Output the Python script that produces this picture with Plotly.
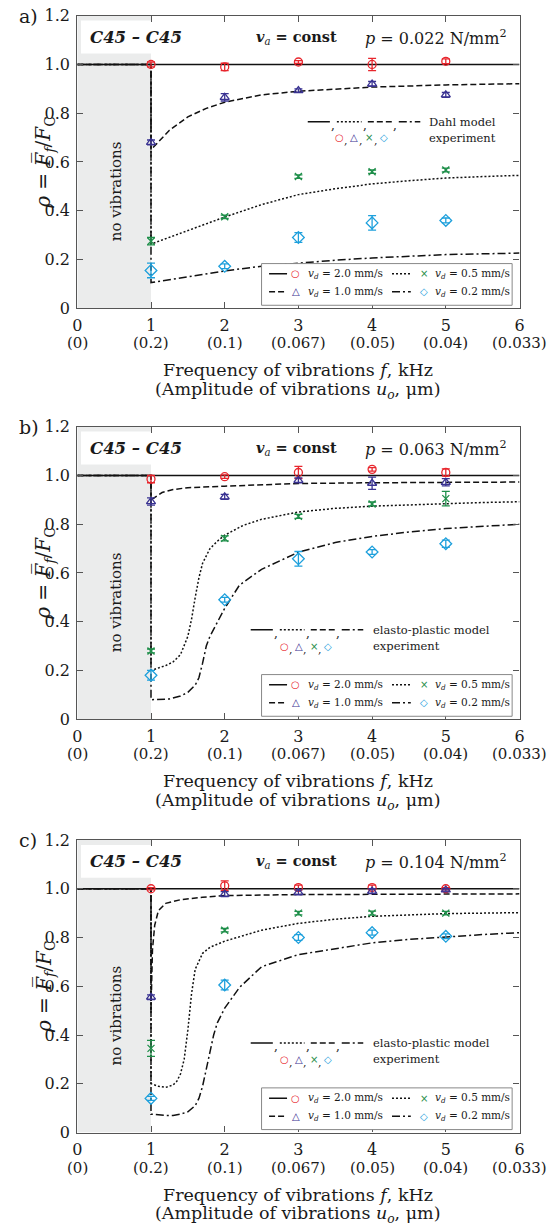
import plotly.graph_objects as go

# ---------------- data ----------------
FREQ = [1, 2, 3, 4, 5]
X_TICKS = [0, 1, 2, 3, 4, 5, 6]
X_TICK_TEXT = ["0", "1", "2", "3", "4", "5", "6"]
AMP_TEXT = ["(0)", "(0.2)", "(0.1)", "(0.067)", "(0.05)", "(0.04)", "(0.033)"]
Y_TICKS = [0, 0.2, 0.4, 0.6, 0.8, 1.0, 1.2]
Y_TICK_TEXT = ["0", "0.2", "0.4", "0.6", "0.8", "1.0", "1.2"]

PANEL_LETTERS = ["a)", "b)", "c)"]
PRESSURES = ["0.022", "0.063", "0.104"]
MODEL_NAMES = ["Dahl model", "elasto-plastic model", "elasto-plastic model"]
VD_LABELS = ["2.0", "1.0", "0.5", "0.2"]

# ---- panel a (Dahl model) ----
A_M20_X = [0, 6]
A_M20_Y = [1.0, 1.0]
A_M10_X = [0, 1, 1, 1.25, 1.5, 1.75, 2, 2.5, 3, 3.5, 4, 5, 6]
A_M10_Y = [1.0, 1.0, 0.65, 0.73, 0.785, 0.82, 0.845, 0.875, 0.89, 0.90, 0.907, 0.916, 0.921]
A_M05_X = [0, 1, 1, 1.5, 2, 2.5, 3, 3.5, 4, 4.5, 5, 5.5, 6]
A_M05_Y = [1.0, 1.0, 0.263, 0.32, 0.374, 0.425, 0.466, 0.49, 0.51, 0.523, 0.534, 0.54, 0.545]
A_M02_X = [0, 1, 1, 1.5, 2, 2.5, 3, 3.5, 4, 5, 6]
A_M02_Y = [1.0, 1.0, 0.105, 0.13, 0.153, 0.172, 0.186, 0.197, 0.206, 0.22, 0.226]

A_E20 = [1.0, 0.99, 1.01, 1.0, 1.013]
A_E20_ERR = [0.01, 0.015, 0.006, 0.025, 0.01]
A_E10 = [0.68, 0.865, 0.893, 0.92, 0.875]
A_E10_ERR = [0.01, 0.015, 0.007, 0.01, 0.01]
A_E05 = [0.275, 0.375, 0.54, 0.56, 0.567]
A_E05_ERR = [0.015, 0.007, 0.007, 0.007, 0.008]
A_E02 = [0.155, 0.172, 0.29, 0.35, 0.36]
A_E02_ERR = [0.03, 0.01, 0.02, 0.03, 0.01]

# ---- panel b (elasto-plastic) ----
B_M20_X = [0, 6]
B_M20_Y = [1.0, 1.0]
B_M10_X = [0, 1, 1, 1.15, 1.3, 1.5, 2, 2.5, 3, 4, 5, 6]
B_M10_Y = [1.0, 1.0, 0.9, 0.93, 0.942, 0.95, 0.956, 0.962, 0.967, 0.97, 0.972, 0.973]
B_M05_X = [0, 1, 1, 1.1, 1.2, 1.3, 1.4, 1.5, 1.55, 1.6, 1.65, 1.7, 1.8, 1.9, 2,
           2.25, 2.5, 3, 3.5, 4, 4.5, 5, 5.5, 6]
B_M05_Y = [1.0, 1.0, 0.20, 0.21, 0.22, 0.235, 0.265, 0.34, 0.41, 0.50, 0.58, 0.64, 0.70, 0.73, 0.755,
           0.795, 0.82, 0.85, 0.865, 0.874, 0.88, 0.885, 0.889, 0.892]
B_M02_X = [0, 1, 1, 1.25, 1.4, 1.5, 1.6, 1.65, 1.7, 1.75, 1.8, 1.9, 2, 2.2, 2.5,
           3, 3.5, 4, 4.5, 5, 5.5, 6]
B_M02_Y = [1.0, 1.0, 0.08, 0.083, 0.095, 0.11, 0.14, 0.17, 0.23, 0.30, 0.34, 0.395, 0.455, 0.55, 0.615,
           0.685, 0.725, 0.75, 0.768, 0.782, 0.792, 0.80]

B_E20 = [0.985, 0.995, 1.012, 1.025, 1.012]
B_E20_ERR = [0.015, 0.007, 0.025, 0.007, 0.015]
B_E10 = [0.893, 0.912, 0.98, 0.968, 0.972]
B_E10_ERR = [0.015, 0.01, 0.01, 0.025, 0.015]
B_E05 = [0.28, 0.742, 0.832, 0.883, 0.905]
B_E05_ERR = [0.008, 0.01, 0.008, 0.008, 0.03]
B_E02 = [0.18, 0.49, 0.658, 0.686, 0.72]
B_E02_ERR = [0.02, 0.01, 0.03, 0.01, 0.015]

# ---- panel c (elasto-plastic) ----
C_M20_X = [0, 6]
C_M20_Y = [1.0, 1.0]
C_M10_X = [0, 1, 1, 1.02, 1.05, 1.1, 1.2, 1.4, 1.7, 2, 3, 4, 6]
C_M10_Y = [1.0, 1.0, 0.5, 0.75, 0.85, 0.91, 0.94, 0.955, 0.965, 0.972, 0.976, 0.978, 0.979]
C_M05_X = [0, 1, 1, 1.1, 1.2, 1.3, 1.35, 1.4, 1.45, 1.5, 1.55, 1.6, 1.7, 1.8, 2,
           2.5, 3, 3.5, 4, 4.5, 5, 5.5, 6]
C_M05_Y = [1.0, 1.0, 0.20, 0.19, 0.185, 0.195, 0.21, 0.24, 0.30, 0.42, 0.57, 0.67, 0.735, 0.76, 0.785,
           0.83, 0.858, 0.875, 0.887, 0.894, 0.898, 0.90, 0.902]
C_M02_X = [0, 1, 1, 1.1, 1.2, 1.3, 1.4, 1.5, 1.6, 1.65, 1.7, 1.75, 1.8, 1.85, 1.9, 2,
           2.2, 2.5, 3, 3.5, 4, 4.5, 5, 5.5, 6]
C_M02_Y = [1.0, 1.0, 0.075, 0.072, 0.07, 0.07, 0.075, 0.085, 0.11, 0.14, 0.19, 0.26, 0.33, 0.40, 0.45, 0.51,
           0.595, 0.68, 0.73, 0.755, 0.778, 0.792, 0.803, 0.812, 0.82]

C_E20 = [1.0, 1.012, 1.005, 1.005, 1.0]
C_E20_ERR = [0.005, 0.02, 0.01, 0.01, 0.005]
C_E10 = [0.555, 0.978, 0.985, 0.99, 0.995]
C_E10_ERR = [0.01, 0.01, 0.01, 0.01, 0.005]
C_E05 = [0.345, 0.83, 0.9, 0.9, 0.9]
C_E05_ERR = [0.033, 0.007, 0.007, 0.008, 0.007]
C_E02 = [0.14, 0.605, 0.8, 0.82, 0.805]
C_E02_ERR = [0.008, 0.02, 0.012, 0.01, 0.01]

# ---------------- styling ----------------
FONT = "DejaVu Serif, serif"
SYM_FONT = "DejaVu Sans, sans-serif"
COLORS = ["#e8262d", "#3a3392", "#1f8f4a", "#1ea0dc"]
SYMBOLS = ["circle-open", "triangle-up-open", "x-thin-open", "diamond-open"]
SIZES = [8, 8, 7, 9]
GLYPHS = ["○", "△", "×", "◇"]
DASHES = ["solid", "6px,3px", "2px,2px", "8px,3px,2px,3px"]
LINE_COLOR = "#111111"
TXT = "#1a1a1a"

MODELS = [
    [(A_M20_X, A_M20_Y), (A_M10_X, A_M10_Y), (A_M05_X, A_M05_Y), (A_M02_X, A_M02_Y)],
    [(B_M20_X, B_M20_Y), (B_M10_X, B_M10_Y), (B_M05_X, B_M05_Y), (B_M02_X, B_M02_Y)],
    [(C_M20_X, C_M20_Y), (C_M10_X, C_M10_Y), (C_M05_X, C_M05_Y), (C_M02_X, C_M02_Y)],
]
EXPS = [
    [(A_E20, A_E20_ERR), (A_E10, A_E10_ERR), (A_E05, A_E05_ERR), (A_E02, A_E02_ERR)],
    [(B_E20, B_E20_ERR), (B_E10, B_E10_ERR), (B_E05, B_E05_ERR), (B_E02, B_E02_ERR)],
    [(C_E20, C_E20_ERR), (C_E10, C_E10_ERR), (C_E05, C_E05_ERR), (C_E02, C_E02_ERR)],
]

W, H = 555, 1231
X_DOMAIN = [77.3 / W, 519.5 / W]
PANEL_PIX = [(15.7, 308.2), (426.7, 719.2), (840.0, 1132.5)]

fig = go.Figure()
shapes = []
annotations = []


def ann(**kw):
    kw.setdefault("showarrow", False)
    annotations.append(kw)


for p in range(3):
    xa = "x" if p == 0 else f"x{p+1}"
    ya = "y" if p == 0 else f"y{p+1}"
    xd = f"{xa} domain"
    yd = f"{ya} domain"
    top, bot = PANEL_PIX[p]

    axis_common = dict(showline=True, linecolor="#555555", linewidth=1.2, mirror="ticks",
                       ticks="inside", ticklen=6, tickwidth=1, tickcolor="#555555",
                       showgrid=False, zeroline=False, automargin=False,
                       tickfont=dict(family=FONT, size=16, color=TXT))
    fig.update_layout(**{
        ("xaxis" if p == 0 else f"xaxis{p+1}"): dict(
            axis_common, domain=X_DOMAIN, range=[0, 6], anchor=ya,
            tickvals=X_TICKS, ticktext=X_TICK_TEXT, ticklabelstandoff=2),
        ("yaxis" if p == 0 else f"yaxis{p+1}"): dict(
            axis_common, domain=[1 - bot / H, 1 - top / H], range=[0, 1.2], anchor=xa,
            tickvals=Y_TICKS, ticktext=Y_TICK_TEXT, ticklabelstandoff=3),
    })

    # gray "no vibrations" region and white header box
    shapes.append(dict(type="rect", xref=xa, yref=ya, x0=0, x1=1, y0=0, y1=1.2,
                       fillcolor="#ebecec", line=dict(width=0), layer="below"))
    shapes.append(dict(type="rect", xref=xa, yref=ya, x0=0.05, x1=1.0, y0=1.045, y1=1.18,
                       fillcolor="white", line=dict(width=0), layer="below"))

    # model curves
    for i, (mx, my) in enumerate(MODELS[p]):
        fig.add_trace(go.Scatter(x=mx, y=my, mode="lines", xaxis=xa, yaxis=ya,
                                 line=dict(color=LINE_COLOR, width=1.5, dash=DASHES[i]),
                                 showlegend=False, hoverinfo="skip"))
    # experiments
    for i, (ev, ee) in enumerate(EXPS[p]):
        fig.add_trace(go.Scatter(
            x=FREQ, y=ev, mode="markers", xaxis=xa, yaxis=ya,
            marker=dict(symbol=SYMBOLS[i], size=SIZES[i], color=COLORS[i],
                        line=dict(color=COLORS[i], width=1.3)),
            error_y=dict(type="data", array=ee, color=COLORS[i], thickness=1.3, width=4),
            showlegend=False, name=f"v_d = {VD_LABELS[i]} mm/s"))

    # header texts
    ann(xref=xa, yref=ya, x=0.14, y=1.11, xanchor="left", yanchor="middle",
        text="<b><i>C45 – C45</i></b>", font=dict(family=FONT, size=16.5, color=TXT))
    ann(xref=xa, yref=ya, x=2.97, y=1.11, xanchor="center", yanchor="middle",
        text="<b><i>v</i></b><sub><i>a</i></sub><b> = const</b>",
        font=dict(family=FONT, size=14.5, color=TXT))
    ann(xref=xa, yref=ya, x=3.87, y=1.11, xanchor="left", yanchor="middle",
        text=f"<i>p</i> = {PRESSURES[p]} N/mm<sup>2</sup>",
        font=dict(family=FONT, size=16, color=TXT))
    # no vibrations
    ann(xref=xa, yref=ya, x=0.525, y=0.48, xanchor="center", yanchor="middle", textangle=-90,
        text="no vibrations", font=dict(family=FONT, size=15, color=TXT))
    # panel letter
    ann(xref="paper", yref=yd, x=0.03, y=1.0, xanchor="left", yanchor="middle",
        text=PANEL_LETTERS[p], font=dict(family=FONT, size=19, color=TXT))
    # y title
    ann(xref=xd, yref=yd, x=0, y=0.5, xshift=-48, textangle=-90,
        text="<i>ρ</i> = <i>F̅</i><sub><i>f</i></sub>/<i>F</i><sub>C</sub>",
        font=dict(family=FONT, size=20, color=TXT))
    # amplitude tick row
    for xv, t in zip(X_TICKS, AMP_TEXT):
        ann(xref=xa, yref=yd, x=xv, y=0, yshift=-35, yanchor="middle", text=t,
            font=dict(family=FONT, size=15, color=TXT))
    # x titles
    ann(xref=xd, yref=yd, x=0.5, y=0, yshift=-62, yanchor="middle",
        text="Frequency of vibrations <i>f</i>, kHz", font=dict(family=FONT, size=17.5, color=TXT))
    ann(xref=xd, yref=yd, x=0.5, y=0, yshift=-82, yanchor="middle",
        text="(Amplitude of vibrations <i>u<sub>o</sub></i>, μm)",
        font=dict(family=FONT, size=17.5, color=TXT))

    # ---- descriptive legend (model / experiment) ----
    if p == 0:
        ls, ms, tx, r1, r2 = 3.127, 3.56, 4.74, 0.765, 0.70
    else:
        ls, ms, tx, r1, r2 = 2.353, 2.805, 3.99, 0.367, 0.30
    seg = [(0.0, 0.30), (0.395, 0.73), (0.815, 1.14), (1.235, 1.527)]
    seg_style = [0, 2, 1, 3]  # solid, dotted, dashed, dash-dot
    for k, (a, b) in enumerate(seg):
        shapes.append(dict(type="line", xref=xa, yref=ya, x0=ls + a, x1=ls + b, y0=r1, y1=r1,
                           line=dict(color=LINE_COLOR, width=1.5, dash=DASHES[seg_style[k]])))
        if k < 3:
            ann(xref=xa, yref=ya, x=ls + b + 0.045, y=r1 - 0.012, text=",",
                font=dict(family=FONT, size=12, color=TXT))
    ann(xref=xa, yref=ya, x=tx, y=r1, xanchor="left", yanchor="middle", text=MODEL_NAMES[p],
        font=dict(family=FONT, size=11.5, color=TXT))
    for i in range(4):
        ann(xref=xa, yref=ya, x=ms + 0.2 * i, y=r2, xanchor="center", yanchor="middle",
            text=GLYPHS[i], font=dict(family=SYM_FONT, size=10, color=COLORS[i]))
        if i < 3:
            ann(xref=xa, yref=ya, x=ms + 0.2 * i + 0.09, y=r2 - 0.012, text=",",
                font=dict(family=FONT, size=11, color=TXT))
    ann(xref=xa, yref=ya, x=tx, y=r2, xanchor="left", yanchor="middle", text="experiment",
        font=dict(family=FONT, size=11.5, color=TXT))

    # ---- boxed legend ----
    shapes.append(dict(type="rect", xref=xa, yref=ya, x0=2.5, x1=5.9, y0=0.012, y1=0.183,
                       fillcolor="white", line=dict(color="#888888", width=1), layer="above"))
    cols = [(2.602, 2.846, 2.967, 3.103), (4.27, 4.525, 4.70, 4.826)]
    rows = [0.141, 0.067]
    order = [(0, 0), (1, 0), (0, 1), (1, 1)]  # (row, col) for 2.0, 1.0, 0.5, 0.2
    for i, (r, c) in enumerate(order):
        l0, l1, mx_, tx_ = cols[c]
        yy = rows[r]
        shapes.append(dict(type="line", xref=xa, yref=ya, x0=l0, x1=l1, y0=yy, y1=yy,
                           line=dict(color=LINE_COLOR, width=1.5, dash=DASHES[i]), layer="above"))
        ann(xref=xa, yref=ya, x=mx_, y=yy, xanchor="center", yanchor="middle", text=GLYPHS[i],
            font=dict(family=SYM_FONT, size=10, color=COLORS[i]))
        ann(xref=xa, yref=ya, x=tx_, y=yy, xanchor="left", yanchor="middle",
            text=f"<i>v</i><sub><i>d</i></sub> = {VD_LABELS[i]} mm/s",
            font=dict(family=FONT, size=10.5, color=TXT))

fig.update_layout(
    width=W, height=H,
    margin=dict(l=0, r=0, t=0, b=0),
    paper_bgcolor="white", plot_bgcolor="white",
    showlegend=False,
    shapes=shapes, annotations=annotations,
    font=dict(family=FONT, size=16, color=TXT),
)

fig.write_html("out.html",
               config={"displayModeBar": False},
               post_script="document.body.style.margin='0';document.body.style.overflow='hidden';")
